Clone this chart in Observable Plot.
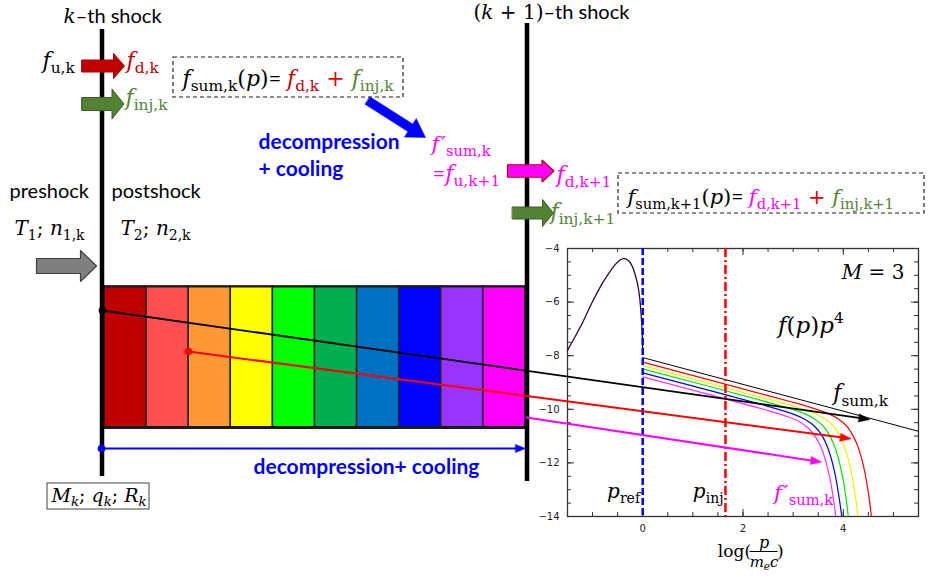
<!DOCTYPE html>
<html><head><meta charset="utf-8">
<script src="https://cdn.jsdelivr.net/npm/d3@7"></script>
<script src="https://cdn.jsdelivr.net/npm/@observablehq/plot@0.6"></script>
<style>
html,body{margin:0;padding:0;background:#fff;}
#fig{position:relative;width:928px;height:579px;overflow:hidden;background:#fff;}
#fig svg{position:absolute;left:0;top:0;}
</style></head><body><div id="fig"></div>
<script>
// ================= DATA =================
// post-shock strips (colours of successive downstream cells)
const stripColors = ["#c00000","#ff5050","#ff9933","#ffff00","#00ff00","#00b050","#0070c0","#0000ff","#9933ff","#ff00ff"];

// inset spectrum: log f(p)p^4 versus log(p/m_e c)
const maxwellX = [-1.5,-1.25,-1.0,-0.8,-0.65,-0.55,-0.45,-0.38,-0.3,-0.22,-0.15,-0.1,-0.06,-0.03,-0.01,0];
const maxwellY = [-7.80,-6.95,-5.98,-5.28,-4.85,-4.60,-4.43,-4.38,-4.43,-4.62,-4.98,-5.35,-5.85,-6.5,-7.2,-7.8];
const powerLawX = [0, 5.5];
const powerLawY = [-8.07, -10.82];
const redX = [0,2.5,3.0,3.25,3.5,3.75,3.9,4.0,4.1,4.2,4.3,4.4,4.5,4.56];
const redY = [-8.24,-9.49,-9.74,-9.87,-10.02,-10.20,-10.36,-10.50,-10.70,-11.00,-11.43,-12.09,-13.11,-14.0];
const yellowX = [0,2.5,3.0,3.25,3.5,3.65,3.75,3.85,3.95,4.05,4.15,4.25,4.29];
const yellowY = [-8.37,-9.62,-9.88,-10.02,-10.21,-10.38,-10.53,-10.75,-11.07,-11.54,-12.25,-13.36,-14.0];
const greenX = [0,2.5,3.0,3.25,3.4,3.5,3.6,3.7,3.8,3.9,4.0,4.05,4.10];
const greenY = [-8.49,-9.74,-10.01,-10.18,-10.33,-10.46,-10.63,-10.89,-11.26,-11.81,-12.66,-13.25,-14.0];
const blueX = [0,2.5,3.0,3.2,3.35,3.45,3.55,3.65,3.75,3.85,3.92,3.97];
const blueY = [-8.64,-9.89,-10.18,-10.34,-10.51,-10.68,-10.91,-11.25,-11.77,-12.55,-13.34,-14.0];
const magentaX = [0,2.5,2.9,3.1,3.25,3.35,3.45,3.55,3.65,3.75,3.82,3.85];
const magentaY = [-8.79,-10.05,-10.28,-10.44,-10.62,-10.79,-11.04,-11.39,-11.93,-12.74,-13.57,-14.0];
const pRef = 0, pInj = 1.65;
const xDomain = [-1.5, 5.5], yDomain = [-14, -4];
const xTickValues = [-1.5,-1,-0.5,0,0.5,1,1.5,2,2.5,3,3.5,4,4.5,5,5.5];
const xTickLabelValues = [0,2,4];
const xTickLabels = ["0","2","4"];
const yTickValues = [-14,-13.5,-13,-12.5,-12,-11.5,-11,-10.5,-10,-9.5,-9,-8.5,-8,-7.5,-7,-6.5,-6,-5.5,-5,-4.5,-4];
const yTickLabelValues = [-4,-6,-8,-10,-12,-14];
const yTickLabels = ["\u22124","\u22126","\u22128","\u221210","\u221212","\u221214"];
// where the three evolution arrows end in the inset (data coordinates)
const tipBlack = [4.53, -10.38], tipRed = [4.16, -11.10], tipMagenta = [3.57, -11.97];

// label texts as runs: [style, text, colour, dx]
const RED = "#c00000", GRN = "#548235", MAG = "#ff00ff", BLU = "#0000ff", PLUSRED = "#e00000";
const txt = {
  kShock: [["i","k"],["s","\u2013th shock"]],
  k1Shock: [["r","("],["i","k"],["r"," + 1)"],["s","\u2013th shock"]],
  fuk: [["i","f"],["_","u,k"]],
  fdk: [["i","f",RED],["_","d,k",RED]],
  finjk: [["i","f",GRN],["_","inj,k",GRN]],
  sumk: [["i","f"],["_","sum,k"],["r","("],["i","p"],["r",")"],["s","= "],["i","f",RED],["_","d,k",RED],["r"," + ",PLUSRED],["i","f",GRN],["_","inj,k",GRN]],
  decomp1: [["b","decompression",BLU]],
  decomp2: [["b","+ cooling",BLU]],
  fprime: [["i","f",MAG],["r","\u2032",MAG,2],["_","sum,k",MAG]],
  eqfu: [["s","=",MAG],["i","f",MAG],["_","u,k+1",MAG]],
  fdk1: [["i","f",MAG],["_","d,k+1",MAG]],
  finjk1: [["i","f",GRN],["_","inj,k+1",GRN]],
  sumk1: [["i","f"],["_","sum,k+1"],["r","("],["i","p"],["r",")"],["s","= "],["i","f",MAG],["_","d,k+1",MAG],["r"," + ",PLUSRED],["i","f",GRN],["_","inj,k+1",GRN]],
  pre: [["s","preshock"]],
  post: [["s","postshock"]],
  t1: [["i","T"],["_","1"],["r","; "],["i","n"],["_","1,k"]],
  t2: [["i","T"],["_","2"],["r","; "],["i","n"],["_","2,k"]],
  decomp3: [["b","decompression+ cooling",BLU]],
  mk: [["i","M"],["_i","k"],["r","; "],["i","q"],["_i","k"],["r","; "],["i","R"],["_i","k"]],
  mach: [["i","M"],["r"," = 3"]],
  fpp4: [["i","f"],["r","("],["i","p"],["r",")"],["i","p"],["^","4"]],
  fsum: [["i","f"],["_","sum,k"]],
  pref: [["i","p"],["_","ref"]],
  pinj: [["i","p"],["_","inj"]],
  logOpen: [["r","log("]],
  logNum: [["i","p"]],
  logDen: [["i","m"],["_i","e"],["i","c"]],
  logClose: [["r",")"]]
};

// ================= LAYOUT / STYLE =================
const W = 928, H = 579;
const SERIF = "'DejaVu Serif','Liberation Serif',serif";
const SANS = "Lato,'Open Sans',sans-serif";
const STY = {
  i: {f: SERIF, st: "italic", k: 1, sh: 0},
  r: {f: SERIF, k: 1, sh: 0},
  _: {f: SERIF, k: 0.70, sh: 0.25},
  _i: {f: SERIF, st: "italic", k: 0.70, sh: 0.25},
  "^": {f: SERIF, k: 0.66, sh: -0.42},
  s: {f: SANS, k: 1, sh: 0},
  b: {f: SANS, w: "bold", k: 1, sh: 0}
};
const NS = "http://www.w3.org/2000/svg";
const richReg = [];
const plainOf = key => txt[key].map(r => r[1]).join("");
function rich(items, opts = {}) {
  richReg.push({items, plain: items.map(d => plainOf(d.key))});
  return Plot.text(items, {x: "x", y: "y", text: d => plainOf(d.key), textAnchor: "start", ...opts});
}
function buildRuns(el, key, base) {
  el.removeAttribute("y"); el.removeAttribute("dy");
  el.textContent = "";
  let cur = 0;
  for (const [k, s, color, dx] of txt[key]) {
    const st = STY[k];
    const ts = document.createElementNS(NS, "tspan");
    ts.textContent = s;
    ts.setAttribute("font-family", st.f);
    ts.setAttribute("font-style", st.st || "normal");
    ts.setAttribute("font-weight", st.w || "normal");
    ts.setAttribute("font-size", (base * st.k).toFixed(2));
    const target = st.sh * base;
    if (target !== cur) { ts.setAttribute("dy", (target - cur).toFixed(2)); cur = target; }
    if (dx) ts.setAttribute("dx", dx);
    if (color) ts.setAttribute("fill", color);
    el.appendChild(ts);
  }
}
function applyRich(svg) {
  const groups = Array.from(svg.querySelectorAll("g")).filter(g => g.querySelector(":scope > text"));
  const used = new Set();
  for (const reg of richReg) {
    const g = groups.find(g => {
      if (used.has(g)) return false;
      const ts = g.querySelectorAll(":scope > text");
      return ts.length === reg.items.length && Array.from(ts).every((t, i) => t.textContent === reg.plain[i]);
    });
    if (!g) continue;
    used.add(g);
    g.querySelectorAll(":scope > text").forEach((el, i) => buildRuns(el, reg.items[i].key, reg.items[i].size));
  }
}
const zip = (X, Y) => X.map((x, i) => [x, Y[i]]);
const XY = {x: d => d[0], y: d => d[1]};
const ID = d => d;

// ---------- inset (spectrum) layer ----------
const INS = {left: 567, right: 918, top: 248, bottom: 516};
const innerW = INS.right - INS.left, innerH = INS.bottom - INS.top;
const AX = "#333";
const tMin = 4, tMaj = 7;
const spectra = [
  {X: redX, Y: redY, c: "#ff0000"},
  {X: yellowX, Y: yellowY, c: "#f2f200"},
  {X: greenX, Y: greenY, c: "#00e600"},
  {X: blueX, Y: blueY, c: "#0000ff"},
  {X: magentaX, Y: magentaY, c: "#ff33ff"}
];
const insetLabels = [
  {key: "mach", x: 3.97, y: -5.13, size: 20},
  {key: "fpp4", x: 2.70, y: -7.15, size: 23},
  {key: "fsum", x: 3.80, y: -9.66, size: 22},
  {key: "pref", x: -0.71, y: -13.30, size: 20},
  {key: "pinj", x: 1.00, y: -13.30, size: 20},
  {key: "fprime", x: 2.62, y: -13.38, size: 21}
];
const fracX = 2.42;
const inset = Plot.plot({
  width: W, height: H,
  marginLeft: INS.left, marginRight: W - INS.right, marginTop: INS.top, marginBottom: H - INS.bottom,
  x: {domain: xDomain, axis: null},
  y: {domain: yDomain, axis: null},
  style: {background: "none", overflow: "visible"},
  marks: [
    Plot.tickX(xTickValues, {x: ID, insetTop: innerH - tMin, stroke: AX}),
    Plot.tickX(xTickValues, {x: ID, insetBottom: innerH - tMin, stroke: AX}),
    Plot.tickX(xTickLabelValues, {x: ID, insetTop: innerH - tMaj, stroke: AX}),
    Plot.tickX(xTickLabelValues, {x: ID, insetBottom: innerH - tMaj, stroke: AX}),
    Plot.tickY(yTickValues, {y: ID, insetRight: innerW - tMin, stroke: AX}),
    Plot.tickY(yTickValues, {y: ID, insetLeft: innerW - tMin, stroke: AX}),
    Plot.tickY(yTickLabelValues, {y: ID, insetRight: innerW - tMaj, stroke: AX}),
    Plot.tickY(yTickLabelValues, {y: ID, insetLeft: innerW - tMaj, stroke: AX}),
    Plot.frame({stroke: AX, strokeWidth: 1.3}),
    Plot.text(xTickLabelValues, {x: ID, y: yDomain[0], dy: 12, text: (d, i) => xTickLabels[i], fontSize: 10, fontFamily: "DejaVu Sans", fill: "#222"}),
    Plot.text(yTickLabelValues, {x: xDomain[0], y: ID, dx: -8, textAnchor: "end", text: (d, i) => yTickLabels[i], fontSize: 10, fontFamily: "DejaVu Sans", fill: "#222"}),
    Plot.line(zip(maxwellX, maxwellY), {...XY, stroke: "#2a0b2a", strokeWidth: 1.3, curve: "catmull-rom", clip: true}),
    Plot.line(zip(powerLawX, powerLawY), {...XY, stroke: "#000", strokeWidth: 1, clip: true}),
    ...spectra.map(s => Plot.line(zip(s.X, s.Y), {...XY, stroke: s.c, strokeWidth: 1.2, curve: "catmull-rom", clip: true})),
    Plot.ruleX([pRef], {x: ID, stroke: "#0000ff", strokeWidth: 2.5, strokeDasharray: "7,3"}),
    Plot.ruleX([pInj], {x: ID, stroke: "#ff0000", strokeWidth: 2.5, strokeDasharray: "9,3,2,3"}),
    rich(insetLabels),
    rich([{key: "logOpen", x: fracX, y: yDomain[0], size: 17}], {textAnchor: "end", dx: -13, dy: 40}),
    rich([{key: "logNum", x: fracX, y: yDomain[0], size: 16}], {textAnchor: "middle", dy: 31}),
    Plot.ruleY([yDomain[0]], {y: ID, x1: fracX - 0.28, x2: fracX + 0.28, dy: 35, stroke: "#000", strokeWidth: 1}),
    rich([{key: "logDen", x: fracX, y: yDomain[0], size: 15}], {textAnchor: "middle", dy: 50}),
    rich([{key: "logClose", x: fracX, y: yDomain[0], size: 17}], {textAnchor: "start", dx: 13, dy: 40})
  ]
});
const fig = document.getElementById("fig");
fig.appendChild(inset);
applyRich(inset);
const sx = inset.scale("x"), sy = inset.scale("y");
const tipPx = t => [sx.apply(t[0]), sy.apply(t[1])];

// ---------- schematic layer ----------
const strip = {left: 104, right: 525, top: 286, bottom: 427};
const sw = (strip.right - strip.left) / stripColors.length;
const strips = stripColors.map((c, i) => ({c, x1: strip.left + i * sw, x2: strip.left + (i + 1) * sw, y1: strip.top, y2: strip.bottom}));
const shocks = [{x: 101.5, y1: 29, y2: 476}, {x: 526.5, y1: 23, y2: 481}];

function blockArrow(x0, y0, x1, y1, shaftW, headW, headL) {
  const L = Math.hypot(x1 - x0, y1 - y0), ux = (x1 - x0) / L, uy = (y1 - y0) / L, nx = -uy, ny = ux;
  const bx = x1 - ux * headL, by = y1 - uy * headL, s = shaftW / 2, h = headW / 2;
  return [[x0 + nx * s, y0 + ny * s], [bx + nx * s, by + ny * s], [bx + nx * h, by + ny * h], [x1, y1],
          [bx - nx * h, by - ny * h], [bx - nx * s, by - ny * s], [x0 - nx * s, y0 - ny * s]];
}
const poly = (pts, o) => Plot.line(pts, {...XY, curve: "linear-closed", strokeLinejoin: "miter", ...o});
function thinArrow(p0, p1, color, w, headL, headW, dot) {
  const marks = [];
  const tri = blockArrow(p0[0], p0[1], p1[0], p1[1], 0, headW, headL);
  const base = tri[1];
  marks.push(Plot.line([p0, base], {...XY, stroke: color, strokeWidth: w}));
  marks.push(poly([tri[2], tri[3], tri[4]], {fill: color, stroke: color, strokeWidth: 0.5}));
  if (dot) marks.push(Plot.dot([p0], {...XY, r: 3.8, fill: color, stroke: "none"}));
  return marks;
}
const boxes = [
  {x1: 173, x2: 403, y1: 57, y2: 97},
  {x1: 618, x2: 924, y1: 173, y2: 213}
];
const schemLabels = [
  {key: "kShock", x: 63, y: 22, size: 20},
  {key: "k1Shock", x: 473, y: 18, size: 20},
  {key: "fuk", x: 42, y: 67, size: 22},
  {key: "fdk", x: 126, y: 67, size: 22},
  {key: "finjk", x: 125, y: 104, size: 22},
  {key: "sumk", x: 182, y: 85, size: 22},
  {key: "decomp1", x: 258, y: 148, size: 21},
  {key: "decomp2", x: 258, y: 175, size: 21},
  {key: "fprime", x: 431, y: 150, size: 21},
  {key: "eqfu", x: 432, y: 180, size: 22},
  {key: "fdk1", x: 556, y: 181, size: 22},
  {key: "finjk1", x: 550, y: 218, size: 22},
  {key: "sumk1", x: 627, y: 203, size: 21},
  {key: "pre", x: 9, y: 197, size: 20},
  {key: "post", x: 111, y: 197, size: 20},
  {key: "t1", x: 14, y: 234, size: 20},
  {key: "t2", x: 120, y: 234, size: 20},
  {key: "decomp3", x: 253, y: 473, size: 21},
  {key: "mk", x: 51, y: 501, size: 19}
];

const schematic = Plot.plot({
  width: W, height: H, margin: 0,
  x: {type: "linear", domain: [0, W], range: [0, W], axis: null},
  y: {type: "linear", domain: [0, H], range: [0, H], axis: null},
  color: {type: "identity"},
  style: {background: "none", overflow: "visible"},
  marks: [
    Plot.rect(strips, {x1: "x1", x2: "x2", y1: "y1", y2: "y2", fill: "c", stroke: "#262626", strokeWidth: 1.5}),
    Plot.ruleY([strip], {y: "top", x1: "left", x2: "right", stroke: "#1a1a1a", strokeWidth: 2}),
    Plot.ruleY([strip], {y: "bottom", x1: "left", x2: "right", stroke: "#1a1a1a", strokeWidth: 3}),
    Plot.ruleX(shocks, {x: "x", y1: "y1", y2: "y2", stroke: "#000", strokeWidth: 4.5}),
    ...thinArrow([102, 310], tipPx(tipBlack), "#000", 1.8, 11, 8, true),
    ...thinArrow([188, 351], tipPx(tipRed), "#ff0000", 2, 11, 8, true),
    ...thinArrow([526, 417], tipPx(tipMagenta), "#ff00ff", 2, 11, 8, false),
    ...thinArrow([101, 448], [525, 448], "#0000ff", 2, 10, 8, true),
    poly(blockArrow(81.5, 65.5, 124, 65.5, 12, 25, 11), {fill: "#c00000", stroke: "#a00000", strokeWidth: 1}),
    poly(blockArrow(81.5, 103.5, 123.5, 103.5, 13, 30, 12), {fill: "#548235", stroke: "#3b5e25", strokeWidth: 1}),
    poly(blockArrow(36, 265.5, 96, 265.5, 15, 31, 16), {fill: "#7f7f7f", stroke: "#3f3f3f", strokeWidth: 1.2}),
    poly(blockArrow(507, 170.5, 553.5, 170.5, 12.5, 22, 12), {fill: "#ff00ff", stroke: "#c00000", strokeWidth: 1.2}),
    poly(blockArrow(512, 212.5, 553, 212.5, 12, 27, 11), {fill: "#548235", stroke: "#3b5e25", strokeWidth: 1}),
    poly(blockArrow(367, 100, 425, 137, 9, 22, 18), {fill: "#0000ff", stroke: "#0000ff", strokeWidth: 0.5}),
    Plot.rect(boxes, {x1: "x1", x2: "x2", y1: "y1", y2: "y2", fill: "none", stroke: "#222", strokeWidth: 1.2, strokeDasharray: "4,3"}),
    Plot.rect([{x1: 47, x2: 149, y1: 483, y2: 509}], {x1: "x1", x2: "x2", y1: "y1", y2: "y2", fill: "#fff", stroke: "#444", strokeWidth: 1}),
    rich(schemLabels)
  ]
});
fig.appendChild(schematic);
applyRich(schematic);
</script></body></html>
